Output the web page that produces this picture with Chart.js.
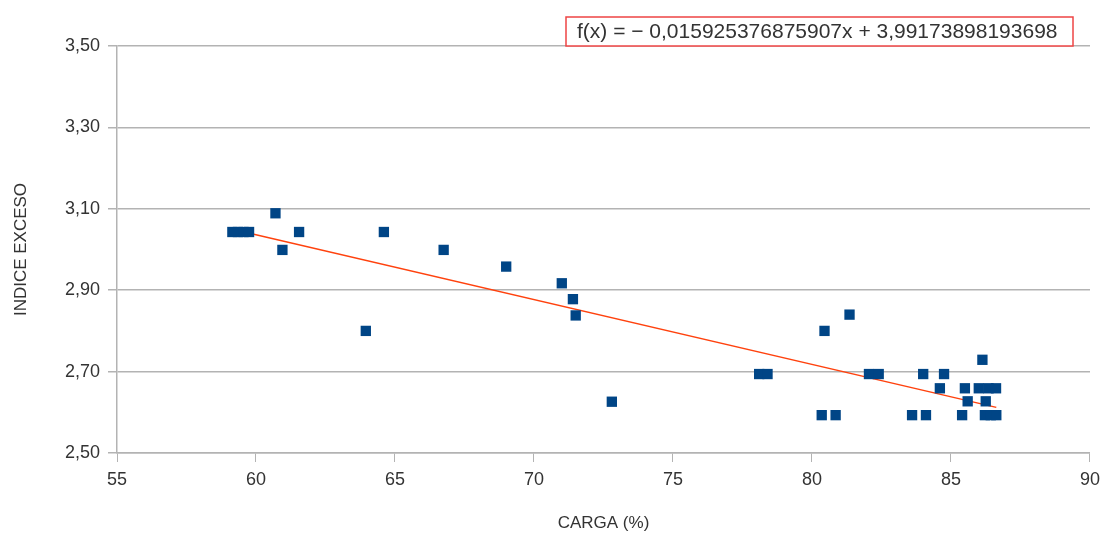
<!DOCTYPE html>
<html>
<head>
<meta charset="utf-8">
<script src="https://cdn.jsdelivr.net/npm/chart.js@4/dist/chart.umd.min.js"></script>
<style>
  html, body { margin: 0; padding: 0; background: #fff; }
  #wrap { width: 1107px; height: 537px; }
</style>
</head>
<body>
<div id="wrap"><canvas id="chart" width="1107" height="537"></canvas></div>
<script>
// carga (%) vs indice exceso
const carga = [
  59.15, 59.35, 59.55, 59.75, 60.7, 60.95, 61.55, 63.95, 64.6, 66.75,
  69.0, 71.0, 71.4, 71.5, 72.8, 78.1, 78.4, 80.35, 80.45, 80.85,
  81.35, 82.05, 82.4, 83.6, 84.0, 84.1, 84.6, 84.75, 85.4, 85.5,
  85.6, 86.0, 86.13, 86.25, 86.22, 86.35, 86.43, 86.62, 86.63
];
const indice = [
  3.043, 3.043, 3.043, 3.043, 3.089, 2.999, 3.043, 2.80, 3.043, 2.999,
  2.958, 2.917, 2.878, 2.838, 2.626, 2.694, 2.694, 2.593, 2.80, 2.593,
  2.84, 2.694, 2.694, 2.593, 2.694, 2.593, 2.659, 2.694, 2.593, 2.659,
  2.627, 2.659, 2.729, 2.627, 2.593, 2.659, 2.593, 2.659, 2.593
];

// linear trend from the fitted equation
const slope = -0.015925376875907;
const intercept = 3.99173898193698;
const equation = "f(x) = \u2212 0,015925376875907x + 3,99173898193698";

const xMin = Math.min(...carga);
const xMax = Math.max(...carga);
const trend = [xMin, xMax].map(x => ({ x: x, y: slope * x + intercept }));

const points = carga.map((x, i) => ({ x: x, y: indice[i] }));

const FONT = "'Liberation Sans', Arial, sans-serif";
const GRID = "#b3b3b3";
const TEXT = "#333333";

// equation label in the upper right
const equationBox = {
  id: "equationBox",
  afterDraw(chart) {
    const ctx = chart.ctx;
    ctx.save();
    ctx.font = "21px " + FONT;
    const left = 566, top = 17, right = 1073, h = 29;
    ctx.fillStyle = "#fff";
    ctx.fillRect(left, top, right - left, h);
    ctx.strokeStyle = "#ee4444";
    ctx.lineWidth = 1.5;
    ctx.strokeRect(left, top, right - left, h);
    ctx.fillStyle = TEXT;
    ctx.textBaseline = "middle";
    ctx.textAlign = "left";
    ctx.fillText(equation, 577, top + h / 2 + 1);
    ctx.restore();
  }
};

new Chart(document.getElementById("chart"), {
  type: "scatter",
  data: {
    datasets: [
      {
        label: "INDICE EXCESO",
        data: points,
        pointStyle: "rect",
        pointRadius: 7.3,
        pointHoverRadius: 7.3,
        backgroundColor: "#004586",
        borderColor: "#004586",
        borderWidth: 0
      },
      {
        label: "Tendencia",
        data: trend,
        showLine: true,
        pointRadius: 0,
        borderColor: "#ff420e",
        borderWidth: 1.5,
        fill: false
      }
    ]
  },
  options: {
    responsive: false,
    animation: false,
    layout: { padding: { top: 46, right: 15, left: 4, bottom: 0 } },
    plugins: {
      legend: { display: false },
      tooltip: { enabled: false }
    },
    scales: {
      x: {
        type: "linear",
        min: 55,
        max: 90,
        ticks: {
          stepSize: 5,
          color: TEXT,
          font: { family: FONT, size: 18 },
          padding: 7
        },
        grid: { drawOnChartArea: false, drawTicks: true, tickLength: 9, color: GRID },
        border: { display: true, color: GRID, width: 1.5 },
        title: {
          display: true,
          text: "CARGA (%)",
          color: TEXT,
          font: { family: FONT, size: 17 },
          padding: { top: 0, bottom: 3 }
        },
        afterFit: s => { s.height = 84; }
      },
      y: {
        type: "linear",
        min: 2.5,
        max: 3.5,
        ticks: {
          stepSize: 0.2,
          color: TEXT,
          font: { family: FONT, size: 18 },
          padding: 8,
          callback: v => v.toFixed(2).replace(".", ",")
        },
        grid: { color: GRID, lineWidth: 1.5, tickLength: 9 },
        border: { display: true, color: GRID, width: 1.5 },
        title: {
          display: true,
          text: "INDICE EXCESO",
          color: TEXT,
          font: { family: FONT, size: 17 },
          padding: { top: 7, bottom: 0 }
        },
        afterFit: s => { s.width = 113; }
      }
    }
  },
  plugins: [equationBox]
});
</script>
</body>
</html>
